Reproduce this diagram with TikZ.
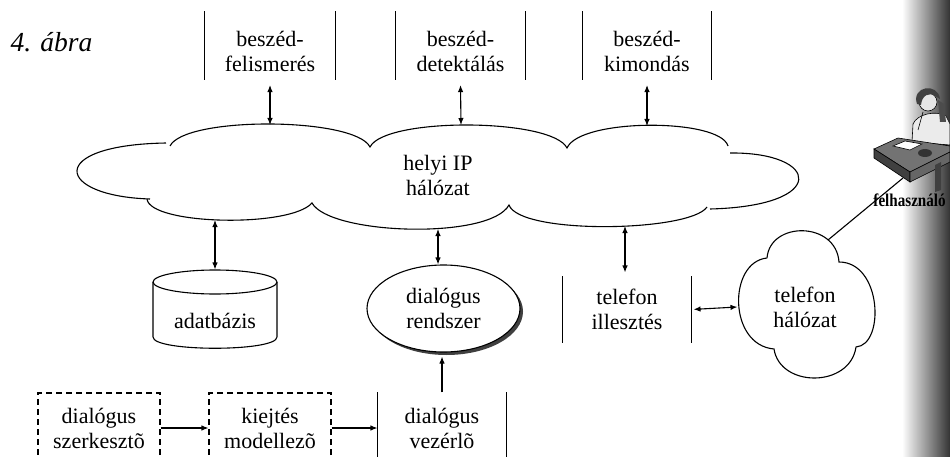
\documentclass[tikz,border=0pt]{standalone}
\usepackage{fontspec}
\setmainfont{Liberation Serif}
\usetikzlibrary{arrows.meta,shapes.geometric,shadows}

\tikzset{
  txt/.style={font=\fontsize{22}{25}\selectfont, align=center, inner sep=0pt},
  barbox/.style={txt, minimum height=#1, append after command={
      (\tikzlastnode.north west) edge (\tikzlastnode.south west)
      (\tikzlastnode.north east) edge (\tikzlastnode.south east)}},
  % bars sit a little higher than the text
  topbox/.style={txt, minimum height=67pt, append after command={
      ([yshift=5.5pt]\tikzlastnode.north west) edge ([yshift=5.5pt]\tikzlastnode.south west)
      ([yshift=5.5pt]\tikzlastnode.north east) edge ([yshift=5.5pt]\tikzlastnode.south east)}},
  dashbox/.style={txt, draw, dash pattern=on 6pt off 4pt, minimum width=122pt, minimum height=70pt},
  link/.style={{Latex[length=7pt,width=5.5pt]}-{Latex[length=7pt,width=5.5pt]}},
  onelink/.style={-{Latex[length=7pt,width=5.5pt]}}
}

\begin{document}
\begin{tikzpicture}[x=1pt, y=-1pt, line width=1.1pt]
  \useasboundingbox (0,0) rectangle (950,457);
  \clip (0,0) rectangle (950,457);
  \shade[left color=white, right color=black!80] (902,0) rectangle (950,457);

  \node[font=\fontsize{27.5}{27.5}\selectfont\itshape, anchor=base west, inner sep=0pt] (ttl) at (10,52) {4. ábra};

  % speech servers on top
  \node[topbox, minimum width=130pt] (fel) at (270,51) {beszéd-\\felismerés};
  \node[topbox, minimum width=129pt] (det) at (460.5,51) {beszéd-\\detektálás};
  \node[topbox, minimum width=128pt] (kim) at (647,51) {beszéd-\\kimondás};

  % local network cloud
  \node[txt] (lan) at (438,175) {helyi IP\\hálózat};
  \draw (166,143) .. controls (45,145) and (55,196) .. (150,199);
  \draw (147,199) .. controls (150,225) and (290,228) .. (312,203)
        .. controls (330,235) and (490,240) .. (509,205)
        .. controls (520,235) and (690,232) .. (707,207);
  \draw (710,209) .. controls (830,206) and (820,152) .. (730,153);
  \draw (728,146) .. controls (720,118) and (580,118) .. (567,148)
        .. controls (552,118) and (385,117) .. (370,147)
        .. controls (355,117) and (185,116) .. (170,146);
  \coordinate (lanN1) at (270,125);
  \coordinate (lanN2) at (461,125);
  \coordinate (lanN3) at (647,126);
  \coordinate (lanS1) at (215,220);
  \coordinate (lanS2) at (438,229);
  \coordinate (lanS3) at (625,226);

  % database
  \node[minimum width=124pt, minimum height=78pt, inner sep=0pt] (db) at (215,309) {};
  \node[txt] (dbl) at (215,320.5) {adatbázis};
  \draw (215,282) ellipse [x radius=62, y radius=12];
  \draw (153,282) -- (153,337) .. controls (153,352) and (277,352) .. (277,337) -- (277,282);

  \node[txt, ellipse, draw, fill=white, minimum width=153pt, minimum height=87pt,
        drop shadow={shadow xshift=3pt, shadow yshift=-3pt, fill=black!75, opacity=1}] (rsz) at (443.5,308.5) {dialógus\\rendszer};
  \node[barbox=65pt, minimum width=128pt] (til) at (627,309.5) {telefon\\illesztés};

  % telephone network
  \node[txt, minimum width=134pt, minimum height=150pt] (tnet) at (805,307) {telefon\\hálózat};
  \draw (767,258) .. controls (770,221) and (836,221) .. (839,262)
        .. controls (882,262) and (885,345) .. (856,347)
        .. controls (850,388) and (780,388) .. (774,349)
        .. controls (728,345) and (728,262) .. (767,258);
  \coordinate (tnetNE) at (828,240);

  % user at the desk
  \begin{scope}[line width=0.6pt]
    \filldraw[fill=black!8] (912,142) -- (913,124) .. controls (917,114) and (936,110) .. (946,116) -- (950,124) -- (950,145) -- cycle;
    \filldraw[fill=black!10] (928,102) circle (9);
    \fill[black!75] (917,104) .. controls (911,86) and (938,82) .. (940,99) -- (935,96) .. controls (929,92) and (922,95) .. (921,105) -- cycle;
    \fill[black!70] (938,100) -- (944,104) -- (946,122) -- (940,122) -- cycle;
    \draw (918,130) -- (923,112);
    \filldraw[fill=black!55] (874,149) -- (898,138) -- (950,146) -- (950,152) -- (910,172) -- cycle;
    \filldraw[fill=black!75] (874,149) -- (910,172) -- (910,182) -- (874,158) -- cycle;
    \filldraw[fill=black!60] (910,172) -- (950,152) -- (950,162) -- (910,182) -- cycle;
    \fill[black!75] (935,165) -- (935,192) -- (941,190) -- (941,162) -- cycle;
    \filldraw[fill=white] (893,146) -- (905,141) -- (922,144) -- (910,150) -- cycle;
    \fill[black!80] (925,153) ellipse [x radius=7, y radius=4];
  \end{scope}
  \coordinate (desk) at (903,178);
  \node[font=\fontsize{18}{18}\selectfont\bfseries, xscale=0.84, anchor=west, inner sep=0pt] (usr) at (873,200) {felhasználó};

  % dialogue tools at the bottom
  \node[dashbox] (szk) at (99,428) {dialógus\\szerkesztõ};
  \node[dashbox] (kie) at (270,428) {kiejtés\\modellezõ};
  \node[barbox=70pt, minimum width=128pt] (vez) at (442,428) {dialógus\\vezérlõ};

  % connections
  \draw[link] (fel.south) -- (lanN1);
  \draw[link] (det.south) -- (lanN2);
  \draw[link] (kim.south) -- (lanN3);
  \draw[link] (lanS1) -- (db.north);
  \draw[link] (lanS2) -- (lanS2 |- rsz.north);
  \draw[link, shorten >=4pt] (lanS3) -- (lanS3 |- til.north);
  \draw[link, shorten <=2pt] (til.east) -- (tnet.west);
  \draw (tnetNE) -- (desk);
  \draw[onelink] (szk.east) -- (kie.west);
  \draw[onelink] (kie.east) -- (vez.west);
  \draw[onelink, shorten >=4pt] (vez.north) -- (vez.north |- rsz.south);
\end{tikzpicture}
\end{document}
